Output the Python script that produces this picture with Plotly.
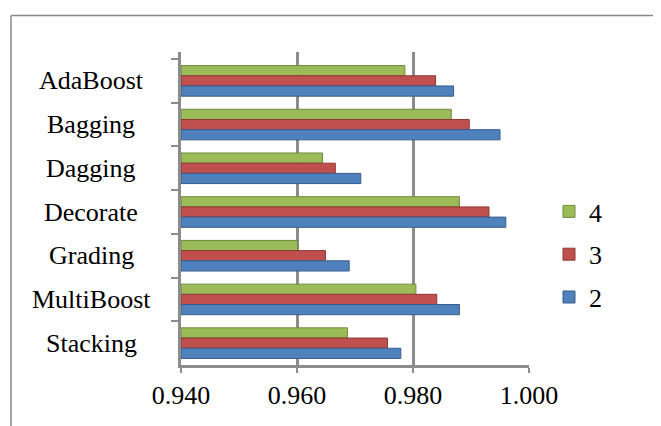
import plotly.graph_objects as go

categories = ["AdaBoost", "Bagging", "Dagging", "Decorate", "Grading", "MultiBoost", "Stacking"]
series_names = ["4", "3", "2"]
values_4 = [0.9786, 0.9866, 0.9644, 0.9880, 0.9601, 0.9805, 0.9687]
values_3 = [0.9839, 0.9897, 0.9666, 0.9931, 0.9649, 0.9841, 0.9756]
values_2 = [0.9870, 0.9950, 0.9710, 0.9960, 0.9690, 0.9880, 0.9779]
x_tickvals = [0.94, 0.96, 0.98, 1.00]
x_ticktext = ["0.940", "0.960", "0.980", "1.000"]
axis_start = 0.94

colors = {"4": "#9BBB59", "3": "#C0504D", "2": "#4F81BD"}
edges = {"4": "#71893F", "3": "#8C3836", "2": "#385D8A"}
FONT = "Liberation Serif, Times New Roman, serif"

fig = go.Figure()
for name, vals in zip(series_names, [values_4, values_3, values_2]):
    fig.add_trace(go.Bar(
        y=categories, x=[v - axis_start for v in vals], base=axis_start,
        name=name, orientation="h",
        marker=dict(color=colors[name], line=dict(color=edges[name], width=1)),
        legendgroup=name,
    ))

OFF = 8  # page body margin
W, H = 661 - OFF, 426 - OFF
L, T = 181 - OFF, 52 - OFF
pw, ph = 348, 313
R, B = W - L - pw, H - T - ph
band = 306 / 7.0
extra = 7 / band

def px_x(p):
    return (p - OFF - L) / pw

def px_y(p):
    return (T + ph - (p - OFF)) / ph

fig.update_layout(
    width=W, height=H,
    margin=dict(l=L, r=R, t=T, b=B),
    paper_bgcolor="white", plot_bgcolor="white",
    barmode="group", bargap=0.30, bargroupgap=0,
    font=dict(family=FONT, size=26, color="black"),
    showlegend=True,
    legend=dict(x=px_x(549), y=px_y(188), xanchor="left", yanchor="top",
                font=dict(family=FONT, size=26), tracegroupgap=6,
                bgcolor="rgba(0,0,0,0)"),
    xaxis=dict(range=[0.94, 1.0], tickvals=x_tickvals, ticktext=x_ticktext,
               showgrid=True, gridcolor="#8C8C8C", gridwidth=2.5,
               showline=True, linecolor="#8C8C8C", linewidth=2.5,
               ticks="outside", ticklen=5, tickcolor="#8C8C8C", tickwidth=2,
               zeroline=False, tickfont=dict(family=FONT, size=26)),
    yaxis=dict(range=[6.5, -0.5 - extra], showticklabels=False,
               showline=True, linecolor="#8C8C8C", linewidth=2.5,
               ticks="outside", ticklen=7, tickcolor="#8C8C8C", tickwidth=2,
               tickson="boundaries", showgrid=False),
)

for c in categories:
    fig.add_annotation(x=px_x(91), xref="paper", y=c, yref="y", text=c,
                       showarrow=False, xanchor="center", yanchor="middle",
                       font=dict(family=FONT, size=26, color="black"))

# outer chart border (top and left visible)
fig.add_shape(type="line", xref="paper", yref="paper",
              x0=px_x(11), x1=px_x(680), y0=px_y(15.5), y1=px_y(15.5),
              line=dict(color="#878787", width=1.5))
fig.add_shape(type="line", xref="paper", yref="paper",
              x0=px_x(11), x1=px_x(11), y0=px_y(15.5), y1=px_y(450),
              line=dict(color="#878787", width=1.5))

fig.write_html("out.html")
